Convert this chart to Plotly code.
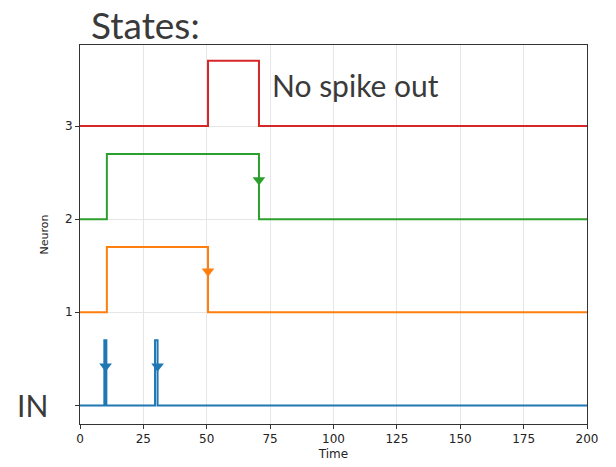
import plotly.graph_objects as go

# data
in_t = [0, 9.6, 9.6, 10.4, 10.4, 29.6, 29.6, 30.6, 30.6, 200]
in_v = [0, 0, 0.7, 0.7, 0, 0, 0.7, 0.7, 0, 0]
n1_t = [0, 10.6, 10.6, 50.5, 50.5, 200]
n1_v = [1, 1, 1.7, 1.7, 1, 1]
n2_t = [0, 10.6, 10.6, 70.6, 70.6, 200]
n2_v = [2, 2, 2.7, 2.7, 2, 2]
n3_t = [0, 50.5, 50.5, 70.6, 70.6, 200]
n3_v = [3, 3, 3.7, 3.7, 3, 3]

in_arrow_t = [10.1, 30.6]
in_arrow_v = [0.42, 0.42]
n1_arrow_t = [50.5]
n1_arrow_v = [1.44]
n2_arrow_t = [70.6]
n2_arrow_v = [2.42]

x_ticks = [0, 25, 50, 75, 100, 125, 150, 175, 200]
y_ticks = [0, 1, 2, 3]
y_labels = ["", "1", "2", "3"]

colors = ["#1f77b4", "#ff7f0e", "#2ca02c", "#d62728"]

fig = go.Figure()
for t, v, c in [(in_t, in_v, colors[0]), (n1_t, n1_v, colors[1]),
                (n2_t, n2_v, colors[2]), (n3_t, n3_v, colors[3])]:
    fig.add_trace(go.Scatter(x=t, y=v, mode="lines",
                             line=dict(color=c, width=2), showlegend=False))
for t, v, c in [(in_arrow_t, in_arrow_v, colors[0]), (n1_arrow_t, n1_arrow_v, colors[1]),
                (n2_arrow_t, n2_arrow_v, colors[2])]:
    fig.add_trace(go.Scatter(x=t, y=v, mode="markers",
                             marker=dict(symbol="triangle-down", size=11, color=c),
                             showlegend=False))

axis_common = dict(showline=True, linecolor="#333", linewidth=1, mirror=True,
                   ticks="outside", ticklen=4, tickcolor="#333", automargin=False,
                   showgrid=True, gridcolor="#e6e6e6", gridwidth=1, zeroline=False,
                   tickfont=dict(family="DejaVu Sans", size=12, color="#222"))

fig.update_xaxes(range=[0, 200], tickvals=x_ticks,
                 title=dict(text="Time", font=dict(family="DejaVu Sans", size=12, color="#222"), standoff=4),
                 **axis_common)
fig.update_yaxes(range=[-0.2, 3.87], tickvals=y_ticks, ticktext=y_labels,
                 title=dict(text="Neuron", font=dict(family="DejaVu Sans", size=11, color="#222"), standoff=14),
                 **axis_common)

fig.add_annotation(text="States:", xref="paper", yref="paper", x=0.018, y=1.0,
                   xanchor="left", yanchor="bottom", showarrow=False, yshift=-4,
                   font=dict(family="Lato", size=37, color="#3a3a3a"))
fig.add_annotation(text="No spike out", x=75, y=3.44, xanchor="left", yanchor="middle",
                   showarrow=False, font=dict(family="Lato", size=30, color="#3a3a3a"))
fig.add_annotation(text="IN", xref="paper", x=-0.093, y=0, xanchor="center", yanchor="middle",
                   showarrow=False, font=dict(family="Lato", size=30, color="#3a3a3a"))

fig.update_layout(width=616, height=467, margin=dict(l=80, r=29, t=45, b=43),
                  plot_bgcolor="white", paper_bgcolor="white")

fig.write_html("out.html", config={"displayModeBar": False},
               post_script="document.body.style.margin='0';")
